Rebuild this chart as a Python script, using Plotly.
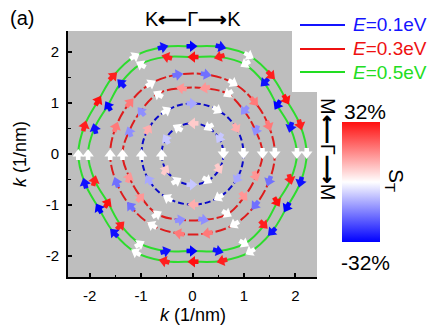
import numpy as np
import plotly.graph_objects as go

# ---- data: spin texture on the Fermi contours ----
# polar sample angles (deg) of the arrows on each contour
ang_12 = [0, 30, 60, 90, 120, 150, 180, 210, 240, 270, 300, 330]
ang_18 = [0, 20, 40, 60, 80, 100, 120, 140, 160, 180, 200, 220, 240, 260, 280, 300, 320, 340]
ang_24 = [0, 15, 30, 45, 60, 75, 90, 105, 120, 135, 150, 165,
          180, 195, 210, 225, 240, 255, 270, 285, 300, 315, 330, 345]

# E = 0.1 eV: radius k (1/nm) and S_T (%) at each sample
r01_in = [0.60, 0.60, 0.60, 0.60, 0.60, 0.60, 0.60, 0.60, 0.60, 0.60, 0.60, 0.60]
r01_out = [0.99, 0.99, 0.99, 0.99, 0.99, 0.99, 0.99, 0.99, 0.99, 0.99, 0.99, 0.99]
s01_in = [0, -7, 0, 7, 0, -7, 0, 7, 0, -7, 0, 7]
s01_out = [0, 11, 0, -11, 0, 11, 0, -11, 0, 11, 0, -11]

# E = 0.3 eV
r03_in = [1.36, 1.31, 1.31, 1.36, 1.31, 1.31, 1.36, 1.31, 1.31,
          1.36, 1.31, 1.31, 1.36, 1.31, 1.31, 1.36, 1.31, 1.31]
r03_out = [1.60, 1.58, 1.58, 1.60, 1.58, 1.58, 1.60, 1.58, 1.58,
           1.60, 1.58, 1.58, 1.60, 1.58, 1.58, 1.60, 1.58, 1.58]
s03_in = [0, -14, -14, 0, 14, 14, 0, -14, -14, 0, 14, 14, 0, -14, -14, 0, 14, 14]
s03_out = [0, 18, 18, 0, -18, -18, 0, 18, 18, 0, -18, -18, 0, 18, 18, 0, -18, -18]

# E = 0.5 eV
r05_in = [2.03, 1.97, 1.90, 1.97, 2.03, 1.97, 1.90, 1.97, 2.03, 1.97, 1.90, 1.97,
          2.03, 1.97, 1.90, 1.97, 2.03, 1.97, 1.90, 1.97, 2.03, 1.97, 1.90, 1.97]
r05_out = [2.22, 2.17, 2.11, 2.17, 2.22, 2.17, 2.11, 2.17, 2.22, 2.17, 2.11, 2.17,
           2.22, 2.17, 2.11, 2.17, 2.22, 2.17, 2.11, 2.17, 2.22, 2.17, 2.11, 2.17]
s05_in = [0, -30, -32, -30, 0, 30, 32, 30, 0, -30, -32, -30,
          0, 30, 32, 30, 0, -30, -32, -30, 0, 30, 32, 30]
s05_out = [0, 30, 32, 30, 0, -30, -32, -30, 0, 30, 32, 30,
           0, -30, -32, -30, 0, 30, 32, 30, 0, -30, -32, -30]

energies = ["0.1", "0.3", "0.5"]
tick_vals = [-2, -1, 0, 1, 2]
tick_text = ["-2", "-1", "0", "1", "2"]
s_lim = 32

# ---- styling ----
W, H = 440, 335
L, R, T, B = 68, 123, 31, 58
PW, PH = W - L - R, H - T - B
FONT = "Liberation Sans, Arial, sans-serif"


def px(x):
    return (x - L) / PW


def py(y):
    return (H - B - y) / PH


line_col = {"0.1": "#0a0ac8", "0.3": "#dd1c1c", "0.5": "#2ddc2d"}
line_dash = {"0.1": "6px,3px", "0.3": "11px,3px", "0.5": "solid"}
text_col = {"0.1": "#1414ff", "0.3": "#ee1111", "0.5": "#22dd22"}

contours = [
    ("0.1", ang_12, r01_in, s01_in, "in"),
    ("0.1", ang_12, r01_out, s01_out, "out"),
    ("0.3", ang_18, r03_in, s03_in, "in"),
    ("0.3", ang_18, r03_out, s03_out, "out"),
    ("0.5", ang_24, r05_in, s05_in, "in"),
    ("0.5", ang_24, r05_out, s05_out, "out"),
]

fig = go.Figure()


def xy(ang, r):
    t = np.deg2rad(np.asarray(ang, float))
    r = np.asarray(r, float)
    return r * np.cos(t), r * np.sin(t)


# contour lines (closed smooth loops)
for e, ang, r, s, branch in contours:
    x, y = xy(ang, r)
    x = np.append(x, x[0])
    y = np.append(y, y[0])
    fig.add_trace(go.Scatter(
        x=x, y=y, mode="lines", line_shape="spline",
        line=dict(color=line_col[e], width=2, dash=line_dash[e], smoothing=1.1),
        hoverinfo="skip", showlegend=False))

# spin arrows: stem + head, coloured by S_T
for e, ang, r, s, branch in contours:
    x, y = xy(ang, r)
    a = np.asarray(ang, float)
    # in-plane spin winds clockwise on the outer branch, mirrored on the inner one
    rot = (180 - a) if branch == "out" else (a - 180)
    fig.add_trace(go.Scatter(
        x=x, y=y, mode="markers", hoverinfo="skip", showlegend=False,
        marker=dict(symbol="line-ns", size=5, angle=rot, standoff=2.5,
                    color=s, coloraxis="coloraxis",
                    line=dict(width=4.6, color=s, coloraxis="coloraxis"))))
    fig.add_trace(go.Scatter(
        x=x, y=y, mode="markers", hoverinfo="skip", showlegend=False,
        marker=dict(symbol="triangle-up", size=10, angle=rot,
                    color=s, coloraxis="coloraxis", line=dict(width=0))))

axis_common = dict(
    tickvals=tick_vals, ticktext=tick_text, ticks="inside", ticklen=4,
    tickwidth=1.5, tickcolor="black", showline=True, linewidth=2,
    linecolor="black", showgrid=False, zeroline=False, mirror=False,
    tickfont=dict(family=FONT, size=15, color="black"),
    ticklabelstandoff=4,
    minor=dict(tickvals=[-1.5, -0.5, 0.5, 1.5], ticks="inside", ticklen=2.5,
               tickwidth=1.2, tickcolor="black", showgrid=False),
)

annotations = [
    dict(text="(a)", x=px(8), y=py(18), xanchor="left", yanchor="middle",
         font=dict(size=20)),
    dict(text="K<b>⟵</b>Γ<b>⟶</b>K", x=px(193), y=py(19), xanchor="center",
         yanchor="middle", font=dict(size=20)),
    dict(text="M<b>⟵</b>Γ<b>⟶</b>M", x=px(328), y=py(149), xanchor="center",
         yanchor="middle", textangle=90, font=dict(size=20)),
    dict(text="<i>k</i> (1/nm)", x=px(193), y=py(315), xanchor="center",
         yanchor="middle", font=dict(size=18)),
    dict(text="<i>k</i> (1/nm)", x=px(20), y=py(154), xanchor="center",
         yanchor="middle", textangle=-90, font=dict(size=18)),
    dict(text=f"{s_lim}%", x=px(365), y=py(112), xanchor="center",
         yanchor="middle", font=dict(size=21)),
    dict(text=f"-{s_lim}%", x=px(365), y=py(262), xanchor="center",
         yanchor="middle", font=dict(size=21)),
    dict(text="S<sub>T</sub>", x=px(395), y=py(180), xanchor="center",
         yanchor="middle", textangle=90, font=dict(size=21)),
]

shapes = [
    # white legend panel over the top-right corner of the plot
    dict(type="rect", xref="paper", yref="paper", x0=px(292), x1=px(320),
         y0=py(92), y1=py(30), fillcolor="white", line=dict(width=0),
         layer="below"),
]

legend_y = [25, 49, 72]
for e, yy in zip(energies, legend_y):
    shapes.append(dict(type="line", xref="paper", yref="paper",
                       x0=px(300), x1=px(345), y0=py(yy), y1=py(yy),
                       line=dict(color=text_col[e], width=2)))
    annotations.append(dict(
        text=f"<i>E</i>={e}eV", x=px(351), y=py(yy), xanchor="left",
        yanchor="middle", font=dict(size=19, color=text_col[e])))

for a in annotations:
    a.update(xref="paper", yref="paper", showarrow=False)
    a["font"].setdefault("color", "black")
    a["font"]["family"] = FONT

fig.update_layout(
    width=W, height=H, margin=dict(l=L, r=R, t=T, b=B),
    paper_bgcolor="white", plot_bgcolor="#bebebe",
    font=dict(family=FONT, color="black"),
    xaxis=dict(range=[-2.42, 2.42], **axis_common),
    yaxis=dict(range=[-2.41, 2.41], **axis_common),
    coloraxis=dict(
        cmin=-s_lim, cmax=s_lim,
        colorscale=[[0, "#0000ff"], [0.5, "#ffffff"], [1, "#ff1010"]],
        colorbar=dict(x=px(342), xanchor="left", y=py(182), yanchor="middle",
                      len=120, lenmode="pixels", thickness=38,
                      thicknessmode="pixels", xpad=0, ypad=0,
                      outlinewidth=0, ticks="", showticklabels=False)),
    annotations=annotations, shapes=shapes, showlegend=False,
)

fig.write_html("out.html")
